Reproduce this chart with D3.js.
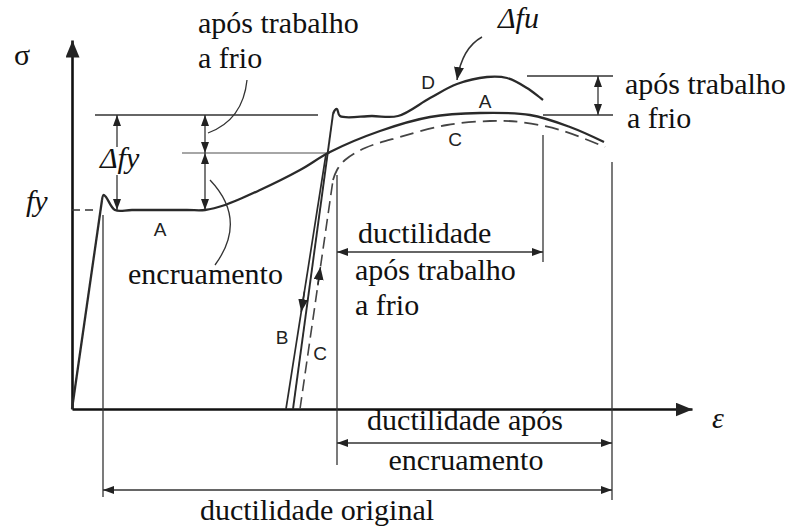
<!DOCTYPE html>
<html>
<head>
<meta charset="utf-8">
<script src="https://cdn.jsdelivr.net/npm/d3@7"></script>
<style>
body { margin: 0; background: #fff; }
</style>
</head>
<body>
<div id="viz"></div>
<script>
// data units: strain (eps) and stress (sig), arbitrary, origin at axes corner
var elasticA = [[0, 0], [30, 209]];
var curveA = [[30, 209], [31.5, 214], [34, 212], [43, 199], [60, 199], [115, 199], [133, 199],
  [153, 204], [188, 219], [228, 239], [258, 257], [308, 278], [358, 292], [408, 296], [458, 294], [498, 282], [532, 267]];
var unloadB = [[254, 255], [214, 0]];
var reloadD = [[221, 0], [261, 295]];
var curveD = [[261, 295], [263, 299], [265, 300], [268, 293], [300, 293], [326, 293], [358, 311], [385, 325],
  [415, 332], [435, 331], [455, 321], [471, 309]];
var reloadC = [[228, 0], [261, 229]];
var curveC = [[261, 229], [265, 239], [273, 249], [293, 261], [328, 272], [375, 284], [418, 288], [448, 287], [488, 279], [533, 262]];

// key levels
var fy = 199, fyCold = 294, sigB = 256, fuCold = 333;
var epsY = 31, epsB = 265, epsCold = 471, epsUlt = 540;

var serif = 'Liberation Serif, DejaVu Serif, serif';
var sans = 'Liberation Sans, Arial, sans-serif';

var chart = { width: 793, height: 526 };
var x = d3.scaleLinear().domain([0, 620]).range([72, 692]);
var y = d3.scaleLinear().domain([0, 369]).range([409, 40]);

var svg = d3.select('#viz').append('svg')
  .attr('width', chart.width)
  .attr('height', chart.height);

var defs = svg.append('defs');
function marker(id, len, wid) {
  defs.append('marker')
    .attr('id', id)
    .attr('markerUnits', 'userSpaceOnUse')
    .attr('markerWidth', len).attr('markerHeight', wid)
    .attr('refX', len).attr('refY', wid / 2)
    .attr('orient', 'auto-start-reverse')
    .append('path')
    .attr('d', 'M0,0L' + len + ',' + wid / 2 + 'L0,' + wid + 'Z')
    .attr('fill', '#222');
}
marker('big', 17, 14);
marker('arr', 11, 8);
marker('arrS', 13, 10);

// axes
var xAxis = svg.append('g').attr('transform', 'translate(0,' + y(0) + ')')
  .call(d3.axisBottom(x).tickValues([]).tickSizeOuter(0));
var yAxis = svg.append('g').attr('transform', 'translate(' + x(0) + ',0)')
  .call(d3.axisLeft(y).tickValues([]).tickSizeOuter(0));
[xAxis, yAxis].forEach(function(a) {
  a.select('.domain').attr('stroke', '#111').attr('stroke-width', 2.6).attr('marker-end', 'url(#big)');
});

var line = d3.line().x(function(d) { return x(d[0]); }).y(function(d) { return y(d[1]); });
var smooth = d3.line().x(function(d) { return x(d[0]); }).y(function(d) { return y(d[1]); })
  .curve(d3.curveCatmullRom.alpha(0.5));

function seg(x1, y1, x2, y2, opts) {
  opts = opts || {};
  var p = svg.append('path')
    .attr('d', line([[x1, y1], [x2, y2]]))
    .attr('fill', 'none')
    .attr('stroke', opts.color || '#333')
    .attr('stroke-width', opts.w || 1.3);
  if (opts.start) p.attr('marker-start', 'url(#arr)');
  if (opts.end) p.attr('marker-end', 'url(#arr)');
  if (opts.dash) p.attr('stroke-dasharray', opts.dash);
  return p;
}

// reference/dimension lines
seg(0, fy, 26, fy, { dash: '8,5', w: 1.5 });
seg(23, fyCold, 246, fyCold);
seg(110, sigB, 258, sigB, { color: '#888', w: 1.6 });
seg(45, 262, 45, fyCold, { end: true });
seg(45, 234, 45, fy, { end: true });
seg(133, sigB, 133, fyCold, { start: true, end: true });
seg(133, fy, 133, sigB, { start: true, end: true });
seg(455, fuCold, 541, fuCold);
seg(471, fyCold, 541, fyCold);
seg(526, fyCold, 526, fuCold, { start: true, end: true });

seg(epsY, 194, epsY, -88);
seg(epsB, 234, epsB, -56);
seg(epsCold, 274, epsCold, 147);
seg(epsUlt, 247, epsUlt, -91);
seg(epsB, 157, epsCold, 157, { start: true, end: true });
seg(epsB, -34, epsUlt, -34, { start: true, end: true });
seg(epsY, -81, epsUlt, -81, { start: true, end: true });

// curves
var stroke = '#2a2a2a', sw = 2.3;
svg.append('path').attr('d', line(elasticA)).attr('fill', 'none').attr('stroke', stroke).attr('stroke-width', sw);
svg.append('path').attr('d', smooth(curveA)).attr('fill', 'none').attr('stroke', stroke).attr('stroke-width', sw);
svg.append('path').attr('d', line(unloadB)).attr('fill', 'none').attr('stroke', stroke).attr('stroke-width', 1.7);
svg.append('path').attr('d', line(reloadD)).attr('fill', 'none').attr('stroke', stroke).attr('stroke-width', 1.9);
svg.append('path').attr('d', smooth(curveD)).attr('fill', 'none').attr('stroke', stroke).attr('stroke-width', sw);
svg.append('path').attr('d', line(reloadC)).attr('fill', 'none').attr('stroke', '#444').attr('stroke-width', 1.6)
  .attr('stroke-dasharray', '12,6');
svg.append('path').attr('d', smooth(curveC)).attr('fill', 'none').attr('stroke', '#444').attr('stroke-width', 1.8)
  .attr('stroke-dasharray', '14,7');

// direction arrows on B (down) and C (up)
function along(pts, t) {
  return [pts[0][0] + (pts[1][0] - pts[0][0]) * t, pts[0][1] + (pts[1][1] - pts[0][1]) * t];
}
var b1 = along(unloadB, 0.54), b2 = along(unloadB, 0.62);
svg.append('path').attr('d', line([b1, b2])).attr('stroke', stroke).attr('stroke-width', 1.5).attr('marker-end', 'url(#arrS)');
var c1 = along(reloadC, 0.54), c2 = along(reloadC, 0.62);
svg.append('path').attr('d', line([c1, c2])).attr('stroke', stroke).attr('stroke-width', 1.5).attr('marker-end', 'url(#arrS)');

// leaders
function quad(p0, c, p1) {
  return 'M' + x(p0[0]) + ',' + y(p0[1]) + 'Q' + x(c[0]) + ',' + y(c[1]) + ' ' + x(p1[0]) + ',' + y(p1[1]);
}
svg.append('path').attr('d', quad([175, 329], [171, 289], [136, 276])).attr('fill', 'none').attr('stroke', '#333').attr('stroke-width', 1.3);
svg.append('path').attr('d', quad([138, 229], [176, 189], [143, 144])).attr('fill', 'none').attr('stroke', '#333').attr('stroke-width', 1.3);
svg.append('path').attr('d', quad([410, 372], [390, 361], [385, 329])).attr('fill', 'none').attr('stroke', '#333').attr('stroke-width', 1.5)
  .attr('marker-end', 'url(#arrS)');

// texts
var fs = 30;
var texts = [
  ['σ', -58, 344, 'start', 'normal'],
  ['fy', -46, 198, 'start', 'italic'],
  ['Δfy', 28, 241, 'start', 'italic'],
  ['Δfu', 426, 381, 'start', 'italic'],
  ['ε', 640, -19, 'start', 'italic'],
  ['após trabalho', 126, 376, 'start', 'normal'],
  ['a frio', 126, 341, 'start', 'normal'],
  ['após trabalho', 553, 315, 'start', 'normal'],
  ['a frio', 555, 281, 'start', 'normal'],
  ['encruamento', 56, 125, 'start', 'normal'],
  ['ductilidade', 286, 166, 'start', 'normal'],
  ['após trabalho', 283, 129, 'start', 'normal'],
  ['a frio', 283, 94, 'start', 'normal'],
  ['ductilidade após', 393, -21, 'middle', 'normal'],
  ['encruamento', 394, -61, 'middle', 'normal'],
  ['ductilidade original', 245, -111, 'middle', 'normal']
];
svg.selectAll('text.t').data(texts).enter().append('text')
  .attr('class', 't')
  .attr('x', function(d) { return x(d[1]); })
  .attr('y', function(d) { return y(d[2]); })
  .attr('text-anchor', function(d) { return d[3]; })
  .attr('font-style', function(d) { return d[4]; })
  .style('font-family', serif)
  .attr('font-size', fs)
  .attr('fill', '#111')
  .text(function(d) { return d[0]; });

var letters = [['A', 88, 173], ['A', 413, 301], ['C', 383, 263], ['D', 356, 320], ['B', 210, 65], ['C', 248, 49]];
svg.selectAll('text.lbl').data(letters).enter().append('text')
  .attr('class', 'lbl')
  .attr('x', function(d) { return x(d[1]); })
  .attr('y', function(d) { return y(d[2]); })
  .attr('text-anchor', 'middle')
  .style('font-family', sans)
  .attr('font-size', 19)
  .attr('fill', '#222')
  .text(function(d) { return d[0]; });
</script>
</body>
</html>
